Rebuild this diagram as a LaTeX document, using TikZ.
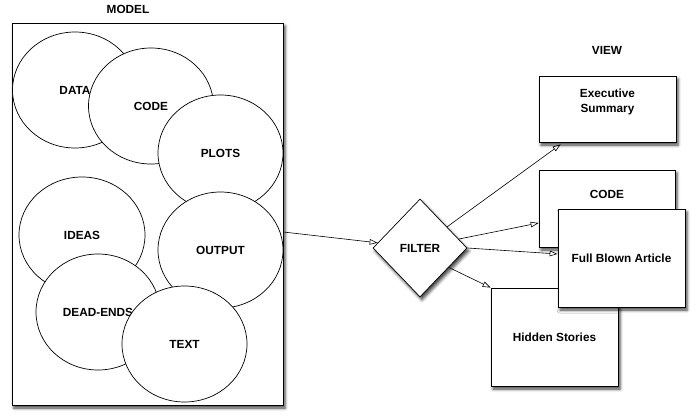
\documentclass[tikz,border=0pt]{standalone}
\usepackage{fontspec}
\setmainfont{Liberation Sans}
\usetikzlibrary{shapes.geometric,arrows.meta,shadows.blur}
\begin{document}
\begin{tikzpicture}[x=1pt,y=-1pt,
  every node/.style={font=\fontsize{11.8}{15}\selectfont\bfseries},
  shad/.style={blur shadow={shadow xshift=2pt,shadow yshift=-3pt,shadow blur radius=3pt,shadow opacity=75}},
  blob/.style={ellipse, draw, fill=white, line width=0.7pt, minimum width=125pt, minimum height=116pt, inner sep=0pt},
  vbox/.style={rectangle, draw, fill=white, line width=0.7pt, shad, inner sep=0pt},
  conn/.style={line width=0.6pt, -{Triangle[open,length=8pt,width=5.5pt]}}
]
\useasboundingbox (0,0) rectangle (696,420);
\node (modellbl) at (128,9) {MODEL};
\node (viewlbl) at (607,50) {VIEW};
\node[vbox, minimum width=271pt, minimum height=382pt] (model) at (147.5,214) {};
\node[blob] (data) at (75,90) {DATA};
\node[blob] (code1) at (151,106) {CODE};
\node[blob] (plots) at (220.5,153) {PLOTS};
\node[blob, minimum width=126pt] (ideas) at (82,235) {IDEAS};
\node[blob] (output) at (220.5,250) {OUTPUT};
\node[blob, minimum width=124pt] (dead) at (98,312) {DEAD-ENDS};
\node[blob] (text) at (184.5,344) {TEXT};
\node[vbox, minimum width=137pt, minimum height=66pt] (exec) at (607.5,109) {};
\node[align=center] (exectxt) at (607.5,101.5) {Executive\\Summary};
\node[vbox, minimum width=136pt, minimum height=77pt] (code) at (607,208.5) {};
\node (codetxt) at (607,194) {CODE};
\node[vbox, minimum width=127pt, minimum height=98pt] (hidden) at (554.5,337) {Hidden Stories};
\node[vbox, minimum width=127pt, minimum height=98pt] (full) at (621.5,258) {Full Blown Article};
\node[diamond, draw, fill=white, line width=0.7pt, shad, minimum width=94pt, minimum height=98pt, inner sep=0pt] (filter) at (420,248) {FILTER};
\draw[conn] ([yshift=-18pt]model.east) -- (filter.173);
\draw[conn] (filter.38) -- ([xshift=22pt,yshift=-2pt]exec.south west);
\draw[conn] (filter.13) -- ([yshift=-14.5pt]code.west);
\draw[conn] (filter.east) -- ([yshift=4pt]full.west);
\draw[conn] (filter.-34) -- (hidden.north west);
\end{tikzpicture}
\end{document}
